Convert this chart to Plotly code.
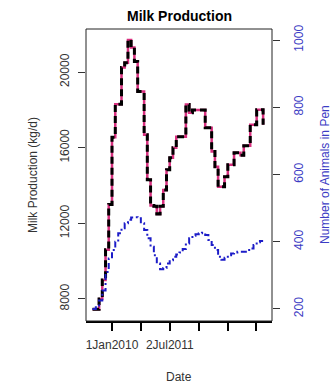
import plotly.graph_objects as go
import pandas as pd

# ---- data ----
months = pd.date_range("2009-07-01", periods=54, freq="MS")
milk = [7450, 7450, 8000, 9000, 10600, 13000, 16550, 18300, 18300, 20250,
        20500, 21700, 21300, 20560, 18970, 18970, 16690, 14300, 12950, 12900,
        12500, 12900, 13770, 14830, 15470, 16000, 16580, 16580, 16580, 18280,
        17850, 18000, 18000, 18000, 18000, 17060, 17060, 15800, 15000, 13930,
        13930, 14460, 15100, 15100, 15730, 15730, 15600, 16100, 16100, 17220,
        17220, 18010, 18010, 17220]
animals = [200, 205, 225, 255, 310, 350, 375, 400, 425, 440,
           455, 465, 472, 473, 470, 455, 435, 410, 385, 360,
           335, 318, 322, 335, 345, 355, 362, 368, 378, 395,
           410, 418, 422, 425, 427, 420, 405, 390, 375, 355,
           346, 352, 360, 365, 368, 370, 370, 370, 375, 380,
           390, 398, 402, 402]
x_tickvals = ["2010-01-01", "2010-10-01", "2011-07-02", "2012-03-31", "2012-12-29", "2013-09-28"]
x_ticktext = ["1Jan2010", "", "2Jul2011", "", "", ""]
y1_ticks = [8000, 12000, 16000, 20000]
y1_text = ["8000", "12000", "16000", "20000"]
y2_ticks = [200, 400, 600, 800, 1000]
y2_text = ["200", "400", "600", "800", "1000"]

FONT = "Liberation Sans, Arial, sans-serif"
BLUE_TXT = "#3c3cc4"

fig = go.Figure()
fig.add_trace(go.Scatter(x=months, y=milk, mode="lines", line_shape="hv",
                         line=dict(color="#d8307f", width=2.5), showlegend=False))
fig.add_trace(go.Scatter(x=months, y=milk, mode="lines", line_shape="hv",
                         line=dict(color="black", width=3, dash="7px,4px"), showlegend=False))
fig.add_trace(go.Scatter(x=months, y=animals, mode="lines", line_shape="hv", yaxis="y2",
                         line=dict(color="#1c1cc8", width=2, dash="6px,3px,2px,3px"), showlegend=False))

fig.update_layout(
    width=333, height=383,
    margin=dict(l=86, r=61, t=29, b=62, autoexpand=False),
    paper_bgcolor="white", plot_bgcolor="white",
    font=dict(family=FONT, size=12, color="#333333"),
    xaxis=dict(type="date", range=["2009-04-30", "2014-02-23"],
               tickvals=x_tickvals, ticktext=x_ticktext, automargin=False,
               ticks="outside", ticklen=8, tickwidth=2, tickcolor="black",
               showline=True, linewidth=2, linecolor="black",
               showgrid=False, zeroline=False, ticklabelstandoff=4,
               tickfont=dict(size=12, color="#333333")),
    yaxis=dict(range=[6834, 22280], tickvals=y1_ticks, ticktext=y1_text, automargin=False,
               ticks="outside", ticklen=7, tickwidth=1, tickcolor="#333333",
               tickangle=-90, showgrid=False, zeroline=False, showline=False,
               ticklabelstandoff=4, tickfont=dict(size=12, color="#333333")),
    yaxis2=dict(range=[164, 1033], tickvals=y2_ticks, ticktext=y2_text, overlaying="y", side="right",
                automargin=False,
                ticks="outside", ticklen=7, tickwidth=1, tickcolor="#333333",
                tickangle=-90, showgrid=False, zeroline=False, showline=False,
                ticklabelstandoff=9, tickfont=dict(size=12, color=BLUE_TXT)),
    shapes=[dict(type="rect", xref="paper", yref="paper", x0=0, x1=1, y0=0, y1=1,
                 line=dict(color="#222222", width=1))],
    annotations=[
        dict(text="<b>Milk Production</b>", xref="paper", yref="paper", x=0.5, y=1,
             yshift=13, xanchor="center", yanchor="middle", showarrow=False,
             font=dict(size=14, color="black", family=FONT)),
        dict(text="Milk Production (kg/d)", xref="paper", yref="paper", x=0, y=0.5,
             xshift=-53, textangle=-90, xanchor="center", yanchor="middle", showarrow=False,
             font=dict(size=12, color="#333333", family=FONT)),
        dict(text="Number of Animals in Pen", xref="paper", yref="paper", x=1, y=0.5,
             xshift=53, textangle=-90, xanchor="center", yanchor="middle", showarrow=False,
             font=dict(size=12, color=BLUE_TXT, family=FONT)),
        dict(text="Date", xref="paper", yref="paper", x=0.5, y=0, yshift=-56,
             xanchor="center", yanchor="middle", showarrow=False,
             font=dict(size=12, color="#333333", family=FONT)),
    ],
)

fig.write_html("out.html", config={"displayModeBar": False},
               post_script="document.body.style.margin='0';document.body.style.overflow='hidden';")
